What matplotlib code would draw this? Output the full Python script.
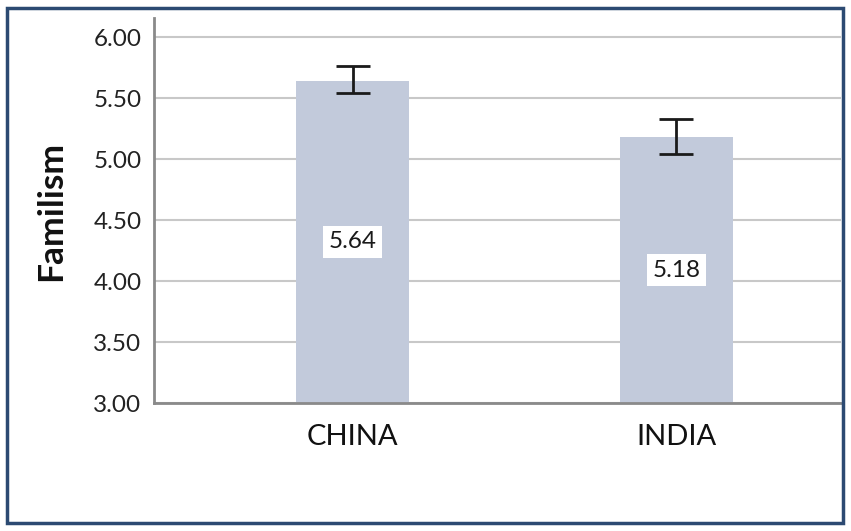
import matplotlib
matplotlib.use("Agg")
import matplotlib.pyplot as plt
from matplotlib.patches import Rectangle

categories = ["CHINA", "INDIA"]
means = [5.64, 5.18]
ci_low = [5.54, 5.04]
ci_high = [5.76, 5.33]
yticks = [3.00, 3.50, 4.00, 4.50, 5.00, 5.50, 6.00]
ylabel = "Familism"

plt.rcParams['font.family'] = ['Lato', 'DejaVu Sans']

fig = plt.figure(figsize=(8.51, 5.31), dpi=100)
fig.patch.set_facecolor("white")
fig.add_artist(Rectangle((7/851, 1 - 523/531), 836/851, 515/531, transform=fig.transFigure,
                         fill=False, edgecolor="#2c4a72", linewidth=2.5, zorder=10))

ax = fig.add_axes([154/851, 128/531, 687/851, 385/531])
x = list(range(len(categories)))
ax.bar(x, means, width=0.35, bottom=0, color="#c2cadb", zorder=2)
yerr = [[m - lo for m, lo in zip(means, ci_low)], [hi - m for m, hi in zip(means, ci_high)]]
ax.errorbar(x, means, yerr=yerr, fmt="none", ecolor="#1a1a1a", elinewidth=2,
            capsize=12, capthick=2, zorder=3)

for xi, m in zip(x, means):
    ax.text(xi, (3.0 + m) / 2, f"{m:.2f}", ha="center", va="center", fontsize=17.5,
            color="#1a1a1a", zorder=4,
            bbox=dict(boxstyle="square,pad=0.24", facecolor="white", edgecolor="none"))

ax.set_ylim(3.0, 6.156)
ax.set_xlim(-0.613, 1.508)
ax.set_yticks(yticks)
ax.set_yticklabels([f"{t:.2f}" for t in yticks], fontsize=17.5, color="#222222")
ax.set_xticks(x)
ax.set_xticklabels(categories, fontsize=21, color="#111111")
ax.tick_params(axis="both", length=0)
ax.tick_params(axis="y", pad=9)
ax.tick_params(axis="x", pad=15)
ax.grid(axis="y", color="#c8c8c8", linewidth=1.5, zorder=0)
ax.set_axisbelow(True)
for s in ["top", "right"]:
    ax.spines[s].set_visible(False)
for s in ["left", "bottom"]:
    ax.spines[s].set_color("#8a8a8a")
    ax.spines[s].set_linewidth(2)
ax.set_ylabel(ylabel, fontsize=25.5, fontweight="bold", color="#111111")
ax.yaxis.set_label_coords(-0.127, 0.5)

fig.savefig("out.png", dpi=100)
